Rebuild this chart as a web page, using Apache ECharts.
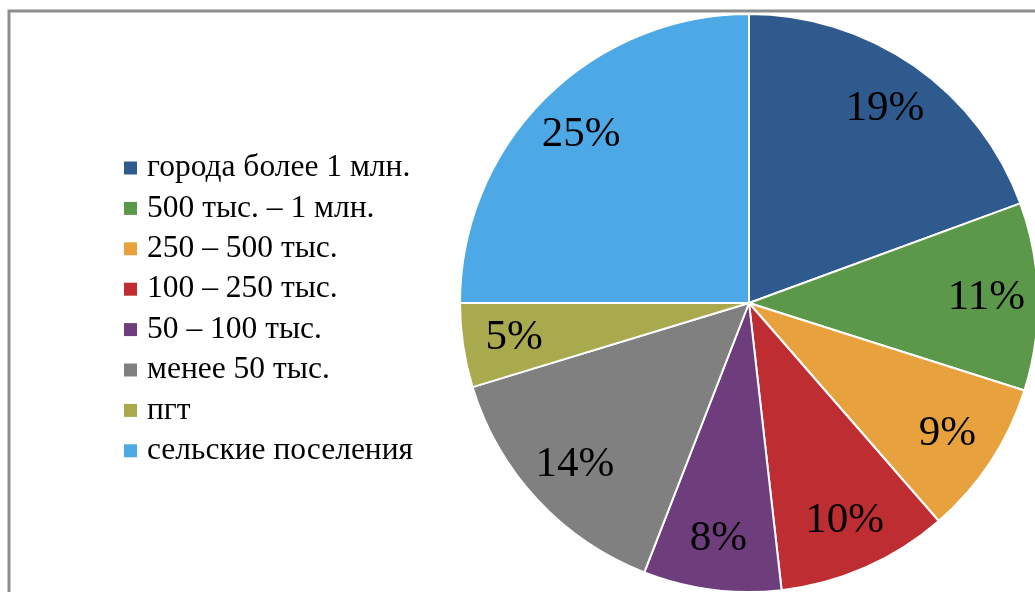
<!DOCTYPE html>
<html>
<head>
<meta charset="utf-8">
<script src="https://cdn.jsdelivr.net/npm/echarts@6/dist/echarts.min.js"></script>
<style>
    * { margin: 0; padding: 0; }
    html, body { background: #fff; }
</style>
</head>
<body>
<!--контейнер для диаграммы-->
<div id="pie" style="width: 1035px;height: 592px;"></div>
<script>
    // типы поселений и их доли (%)
    var categories = ['города более 1 млн.', '500 тыс. – 1 млн.', '250 – 500 тыс.', '100 – 250 тыс.',
        '50 – 100 тыс.', 'менее 50 тыс.', 'пгт', 'сельские поселения']
    var shares = [19.4, 10.5, 8.7, 9.6, 7.7, 14.4, 4.7, 25.0]
    var colors = ['#2F5A8D', '#5B9849', '#E8A23D', '#BD2D31', '#6E3D7B', '#7F807F', '#A9AA4E', '#4DA9E6']

    var pieData = categories.map(function (name, i) {
        return {name: name, value: shares[i]}
    })

    var chart = echarts.init(document.getElementById('pie'))
    chart.setOption({
        animation: false,
        color: colors,
        graphic: [{
            type: 'rect',
            shape: {x: 9, y: 11, width: 2000, height: 2000},
            style: {fill: 'none', stroke: '#8d8d8d', lineWidth: 3},
            z: 0
        }],
        legend: {
            orient: 'vertical',
            left: 124,
            top: 152,
            padding: 0,
            itemWidth: 13,
            itemHeight: 13,
            itemGap: 8.4,
            itemTextGap: 10,
            icon: 'rect',
            selectedMode: false,
            itemStyle: {borderWidth: 0, borderColor: 'transparent'},
            textStyle: {
                color: '#000',
                fontFamily: 'Liberation Serif',
                fontSize: 31.5,
                lineHeight: 28,
                padding: [0, 0, 0, 5]
            },
            data: categories.map(function (name) {
                return {name: name, itemStyle: {borderWidth: 0}}
            })
        },
        series: [
            {
                name: 'доли',
                type: 'pie',
                center: [749, 303],
                radius: [0, 289],
                startAngle: 90,
                clockwise: true,
                itemStyle: {borderColor: '#fff', borderWidth: 2},
                label: {show: false},
                labelLine: {show: false},
                emphasis: {disabled: true},
                data: pieData
            },
            {
                // прозрачное кольцо только для подписей, чтобы сдвинуть их к краю
                name: 'подписи',
                type: 'pie',
                center: [749, 303],
                radius: [180, 289],
                startAngle: 90,
                clockwise: true,
                silent: true,
                legendHoverLink: false,
                itemStyle: {color: 'rgba(0,0,0,0)', borderWidth: 0},
                label: {
                    show: true,
                    position: 'inside',
                    color: '#000',
                    fontFamily: 'Liberation Serif',
                    fontSize: 43,
                    formatter: function (p) {
                        return Math.round(p.value) + '%'
                    }
                },
                labelLine: {show: false},
                data: pieData
            }
        ]
    })
</script>
</body>
</html>
